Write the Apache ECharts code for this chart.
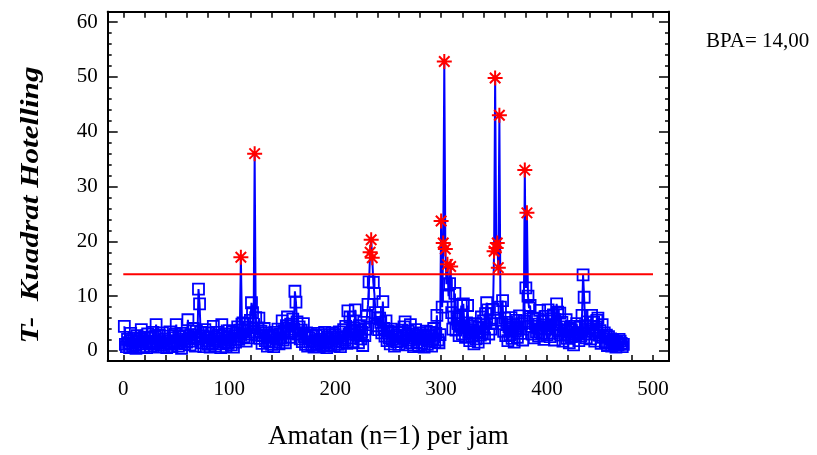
<!DOCTYPE html>
<html>
<head>
<meta charset="utf-8">
<script src="https://cdn.jsdelivr.net/npm/echarts@6/dist/echarts.min.js"></script>
<style>
  html, body { margin: 0; padding: 0; background: #fff; }
  #chart { width: 817px; height: 455px; }
</style>
</head>
<body>
<div id="chart"></div>
<script>
// T-kuadrat Hotelling per amatan (n=1)
const tValues = [
  4.5, 1.2, 0.8, 2.1, 1.5, 0.6, 3.2, 1.9, 0.9, 2.4, 1.1, 0.5, 2.8, 1.6, 0.7, 2.2, 3.9, 1.3, 0.8, 2.5,
  1.7, 0.6, 3.1, 1.4, 2.3, 0.9, 1.8, 3.4, 1.2, 2.6, 4.8, 1.5, 0.7, 2.9, 1.6, 1.1, 3.3, 0.8, 2.2, 1.4,
  0.6, 2.7, 1.9, 3.5, 1.2, 0.8, 2.4, 1.7, 3.1, 4.8, 1.4, 0.9, 2.6, 1.8, 0.5, 3.2, 2.1, 1.3, 2.8, 1.6,
  5.7, 2.3, 1.1, 3.0, 1.8, 4.1, 2.5, 0.9, 3.6, 2.2, 11.3, 8.6, 3.4, 1.5, 2.7, 0.8, 3.9, 1.9, 2.4, 1.2,
  3.3, 0.7, 2.6, 1.5, 4.5, 2.1, 0.9, 3.4, 1.8, 2.9, 1.3, 0.6, 4.8, 2.3, 1.6, 3.1, 0.8, 2.5, 1.4, 3.7,
  2.0, 1.1, 3.5, 0.7, 2.8, 1.6, 3.2, 4.4, 2.1, 3.8, 17.1, 4.9, 5.1, 2.6, 3.9, 1.8, 4.3, 2.4, 3.1, 5.6,
  8.8, 7.0, 3.5, 36.0, 6.1, 2.9, 4.2, 6.0, 2.3, 3.6, 1.4, 2.8, 4.1, 1.9, 3.3, 0.9, 2.5, 1.7, 3.0, 1.2,
  2.7, 0.8, 3.4, 1.6, 2.2, 4.0, 1.3, 3.1, 2.4, 5.5, 2.0, 3.7, 1.5, 4.6, 6.2, 3.2, 2.5, 4.9, 3.6, 5.8,
  4.0, 10.9, 8.9, 5.3, 3.1, 4.4, 2.2, 3.8, 1.7, 5.0, 2.6, 1.2, 3.3, 0.9, 2.4, 1.6, 3.0, 1.1, 2.7, 0.7,
  1.9, 2.8, 1.3, 3.2, 0.8, 2.1, 1.5, 2.9, 1.0, 3.4, 1.7, 0.6, 2.5, 1.4, 3.0, 1.1, 3.3, 2.2, 0.9, 3.0,
  1.8, 2.6, 1.2, 3.5, 0.8, 2.3, 1.6, 3.9, 2.0, 4.5, 1.4, 7.3, 3.1, 6.2, 2.4, 3.6, 1.7, 4.2, 7.5, 2.9,
  3.8, 1.5, 4.6, 2.2, 3.4, 1.0, 5.2, 2.8, 4.0, 6.3, 8.5, 12.6, 18.0, 20.3, 17.0, 12.5, 10.5, 7.0, 4.6, 6.1,
  3.9, 6.0, 5.2, 3.3, 9.0, 4.1, 2.7, 5.5, 1.9, 3.6, 2.4, 1.3, 4.0, 2.1, 3.2, 0.9, 2.6, 1.7, 3.5, 1.2,
  2.9, 1.8, 3.8, 2.3, 4.4, 5.3, 2.8, 1.1, 3.6, 2.0, 4.8, 1.5, 3.1, 0.8, 2.4, 3.9, 1.6, 2.7, 1.0, 3.3,
  2.1, 1.4, 3.0, 0.7, 2.5, 3.6, 1.2, 2.8, 1.9, 3.4, 0.9, 2.2, 4.1, 1.6, 3.2, 6.5, 2.0, 1.5, 3.0, 23.7,
  8.0, 19.7, 52.8, 18.6, 12.2, 15.8, 10.0, 12.3, 15.4, 7.0, 4.0, 6.2, 10.5, 3.8, 5.9, 5.0, 2.8, 4.5, 8.3, 3.1,
  8.6, 4.2, 2.5, 5.1, 8.3, 3.4, 1.9, 4.6, 2.7, 3.8, 1.3, 5.0, 2.2, 3.5, 1.6, 4.3, 2.9, 6.2, 3.3, 5.5,
  2.4, 6.8, 8.8, 7.5, 3.1, 5.7, 4.0, 5.0, 7.6, 18.2, 49.8, 18.8, 19.7, 15.2, 43.0, 8.0, 5.0, 9.2, 3.6, 6.0,
  2.8, 5.2, 1.9, 4.4, 3.0, 6.1, 2.3, 4.8, 1.6, 3.7, 5.6, 2.5, 4.1, 6.4, 3.2, 5.0, 2.0, 5.4, 33.0, 11.5,
  25.2, 10.0, 7.8, 8.3, 4.5, 3.1, 6.0, 2.4, 4.9, 3.5, 5.8, 2.7, 7.4, 4.0, 3.2, 5.5, 2.1, 4.7, 6.3, 3.0,
  7.5, 4.2, 2.6, 5.9, 3.3, 6.6, 2.0, 4.8, 8.6, 7.1, 3.7, 6.9, 2.9, 5.2, 1.8, 4.4, 3.0, 5.7, 2.3, 3.9,
  1.5, 4.1, 2.6, 3.4, 1.1, 4.5, 2.8, 5.0, 3.2, 1.9, 4.3, 2.7, 6.5, 13.9, 9.8, 4.6, 2.4, 5.3, 3.1, 4.0,
  2.2, 6.5, 3.6, 5.2, 1.8, 4.4, 5.6, 6.0, 2.9, 3.7, 1.4, 4.8, 2.5, 3.3, 1.7, 2.9, 1.0, 2.6, 1.5, 2.2,
  0.9, 2.0, 1.3, 1.8, 0.7, 1.6, 1.1, 2.1, 1.8, 1.4, 0.8, 1.2
];
const bpa = 14.00;           // batas pengendali atas
const bpaRange = [0, 500];
const xTickLabels = [0, 100, 200, 300, 400, 500];
const yTickLabels = [0, 10, 20, 30, 40, 50, 60];

const starPath = 'path://M10,0 L10,20 M0,10 L20,10 M3,3 L17,17 M3,17 L17,3';

let xMinorTicks = [];
for (let v = 0; v <= 500; v += 20) xMinorTicks.push(v);
let yMinorTicks = [];
for (let v = 0; v <= 60; v += 2) {
    if (v % 10 != 0) yMinorTicks.push(v);
}

// titik biasa pakai kotak, titik di atas BPA pakai bintang merah
let lineData = tValues.map(function (v, i) {
    if (v > bpa) return { value: [i + 1, v], symbol: 'none' };
    return [i + 1, v];
});
let outData = [];
tValues.forEach(function (v, i) {
    if (v > bpa) outData.push([i + 1, v]);
});

const serif = '"Liberation Serif", "Times New Roman", serif';
const xMin = -14.7, xMax = 515.1;
const yMin = -1.83, yMax = 61.9;

function xAxisOf(pos, showLabel) {
    return {
        type: 'value', position: pos, min: xMin, max: xMax,
        axisLine: { show: true, onZero: false, lineStyle: { color: '#000', width: 2 } },
        axisTick: { show: true, inside: true, length: 6, customValues: xMinorTicks,
            lineStyle: { color: '#000', width: 1.5 } },
        axisLabel: { show: showLabel, customValues: xTickLabels, margin: 18,
            fontFamily: serif, fontSize: 21, color: '#000' },
        splitLine: { show: false }
    };
}
function yAxisOf(pos, major) {
    return {
        type: 'value', position: pos, min: yMin, max: yMax,
        axisLine: { show: true, onZero: false, lineStyle: { color: '#000', width: 2 } },
        axisTick: { show: true, inside: true, length: major ? 10 : 4,
            customValues: major ? yTickLabels : yMinorTicks,
            lineStyle: { color: '#000', width: 1.5 } },
        axisLabel: { show: major && pos == 'left', customValues: yTickLabels, margin: 10,
            fontFamily: serif, fontSize: 21, color: '#000' },
        splitLine: { show: false }
    };
}

let myChart = echarts.init(document.getElementById('chart'));
let option = {
    animation: false,
    backgroundColor: '#fff',
    grid: { left: 107.7, right: 148, top: 11.7, bottom: 88.3 },
    xAxis: [
        Object.assign(xAxisOf('bottom', true), {
            name: 'Amatan (n=1) per jam', nameLocation: 'middle', nameGap: 62,
            nameTextStyle: { fontFamily: serif, fontSize: 27, color: '#000' }
        }),
        xAxisOf('top', false)
    ],
    yAxis: [
        yAxisOf('left', true),
        yAxisOf('left', false),
        yAxisOf('right', true),
        yAxisOf('right', false)
    ],
    graphic: [{
        type: 'text', x: 31, y: 205, rotation: Math.PI / 2, scaleX: 1.2,
        style: { text: 'T-  Kuadrat Hotelling', font: 'italic bold 26px ' + serif,
            fill: '#000', align: 'center', verticalAlign: 'middle' }
    }, {
        type: 'text', x: 706, y: 41,
        style: { text: 'BPA= 14,00', font: '21px ' + serif,
            fill: '#000', align: 'left', verticalAlign: 'middle' }
    }],
    series: [{
        type: 'line',
        data: lineData,
        showAllSymbol: true,
        symbol: 'rect',
        symbolSize: 11,
        lineStyle: { color: '#0000ff', width: 2 },
        itemStyle: { color: 'rgba(0,0,0,0)', borderColor: '#0000ff', borderWidth: 1.8 },
        z: 3
    }, {
        type: 'line',
        data: bpaRange.map(function (x) { return [x, bpa]; }),
        symbol: 'none',
        lineStyle: { color: '#ff0000', width: 2 },
        z: 4
    }, {
        type: 'scatter',
        data: outData,
        symbol: starPath,
        symbolSize: 15,
        itemStyle: { color: 'none', borderColor: '#ff0000', borderWidth: 2, opacity: 1 },
        z: 5
    }]
};
myChart.setOption(option, true);
</script>
</body>
</html>
